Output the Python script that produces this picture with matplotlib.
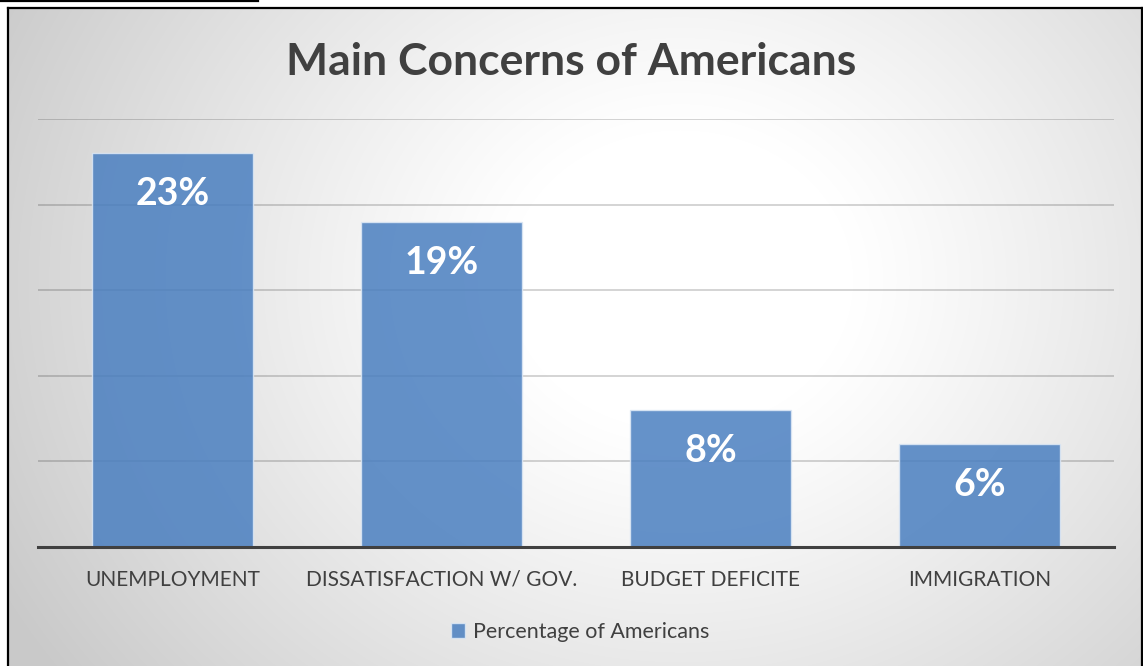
import numpy as np
import matplotlib
matplotlib.use("Agg")
import matplotlib.pyplot as plt
from matplotlib.patches import Patch

categories = ["UNEMPLOYMENT", "DISSATISFACTION W/ GOV.", "BUDGET DEFICITE", "IMMIGRATION"]
values = [23, 19, 8, 6]
labels = ["23%", "19%", "8%", "6%"]
series_name = "Percentage of Americans"
title = "Main Concerns of Americans"

W, H = 1143, 666
fig = plt.figure(figsize=(W / 100, H / 100), dpi=100)
FONT = "Lato"

# background radial gradient
bg = fig.add_axes([0, 0, 1, 1], zorder=-10)
yy, xx = np.mgrid[0:H, 0:W]
cx, cy = 680, 280
d = np.sqrt(((xx - cx) / 1.15) ** 2 + (yy - cy) ** 2)
t = np.clip((d - 150) / 520, 0, 1)
v = 1 - 0.21 * t ** 1.1
img = np.dstack([v, v, v])
img[(yy < 8) | (xx < 8)] = 1.0
bg.imshow(img, extent=[0, W, H, 0], aspect="auto", interpolation="bilinear")
bg.set_xlim(0, W)
bg.set_ylim(H, 0)
bg.axis("off")
# border lines
bg.plot([8, 8], [8, H], color="black", lw=1.6)
bg.plot([8, W - 1.5], [8, 8], color="black", lw=1.6)
bg.plot([W - 1.5, W - 1.5], [8, H], color="black", lw=1.6)
bg.plot([0, 258], [1, 1], color="black", lw=1.6)

ax = fig.add_axes([38 / W, 1 - 547 / H, (1114 - 38) / W, (547 - 119) / H])
ax.set_facecolor("none")
x = np.arange(len(categories))
ax.set_xlim(-0.5, len(categories) - 0.5)
ax.set_ylim(0, 25)
ax.set_yticks([5, 10, 15, 20, 25])
ax.yaxis.grid(True, color="black", alpha=0.17, lw=1.4)
ax.set_axisbelow(True)
for s in ["top", "right", "left"]:
    ax.spines[s].set_visible(False)
ax.spines["bottom"].set_color("#404040")
ax.spines["bottom"].set_linewidth(2.2)
ax.spines["bottom"].set_zorder(5)
ax.tick_params(axis="y", left=False, labelleft=False)
ax.tick_params(axis="x", bottom=False, pad=13)
ax.set_xticks(x)
ax.set_xticklabels(categories, fontsize=15, color="#404040", fontname=FONT)

bars = ax.bar(x, values, width=0.6, color="#4a7fc0", alpha=0.85,
              edgecolor="#dde8f5", linewidth=1.0, zorder=3)
for xi, val, lab in zip(x, values, labels):
    ax.annotate(lab, (xi, val), xytext=(0, -29.5), textcoords="offset points",
                ha="center", va="center", fontsize=27, fontweight="bold",
                color="white", fontname=FONT, zorder=6)

fig.text(571 / W, 1 - 62 / H, title, ha="center", va="center", fontsize=32,
         fontweight="bold", color="#404040", fontname=FONT)

handle = Patch(facecolor="#4a7fc0", alpha=0.85, edgecolor="#dde8f5")
fig.legend([handle], [series_name], loc="center", bbox_to_anchor=(580 / W, 1 - 632 / H),
           frameon=False, prop={"family": FONT, "size": 15.5}, labelcolor="#404040",
           handlelength=0.65, handleheight=0.65, handletextpad=0.35)

fig.savefig("out.png", dpi=100)
